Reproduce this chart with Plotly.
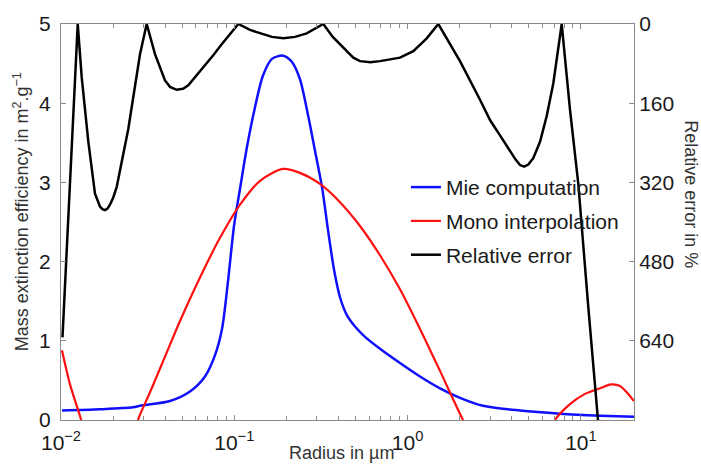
import plotly.graph_objects as go

# ---------------- data ----------------
mie_radius = [0.01013, 0.01679, 0.02603, 0.02857, 0.04256, 0.05551, 0.06773, 0.07738,
              0.08492, 0.09196, 0.09961, 0.1079, 0.1184, 0.1317, 0.1464, 0.1650, 0.1910,
              0.2152, 0.2394, 0.2663, 0.2922, 0.3207, 0.3473, 0.3761, 0.4073, 0.4470,
              0.4971, 0.5678, 0.6931, 0.9040, 1.179, 1.538, 2.006, 2.723, 4.453, 7.575,
              12.89, 20.25]
mie_value = [0.12, 0.135, 0.16, 0.18, 0.24, 0.36, 0.55, 0.82, 1.15, 1.75, 2.45, 2.92,
             3.45, 3.95, 4.35, 4.56, 4.60, 4.52, 4.30, 3.85, 3.40, 2.94, 2.40, 1.90,
             1.55, 1.32, 1.18, 1.05, 0.90, 0.72, 0.55, 0.40, 0.28, 0.18, 0.12, 0.08,
             0.055, 0.04]

mono_radius = [0.01013, 0.01127, 0.01287, 0.01470, 0.01917, 0.02435, 0.02781, 0.03263,
               0.03982, 0.04861, 0.06341, 0.08270, 0.1079, 0.1407, 0.1910, 0.2394, 0.3122,
               0.4073, 0.5313, 0.6931, 0.9040, 1.179, 1.538, 2.088, 2.617, 4.453, 6.206,
               7.088, 8.651, 10.56, 12.89, 14.92, 16.81, 20.25]
mono_value = [0.88, 0.45, 0.05, -0.40, -0.90, -0.50, 0.0, 0.35, 0.80, 1.25, 1.80, 2.30,
              2.72, 3.02, 3.17, 3.12, 2.98, 2.75, 2.45, 2.08, 1.65, 1.15, 0.62, 0.0,
              -0.40, -0.70, -0.30, 0.0, 0.20, 0.33, 0.40, 0.45, 0.43, 0.24]

err_radius = [0.0102, 0.01093, 0.01158, 0.01249, 0.01317, 0.01437, 0.01571, 0.01630,
              0.01679, 0.01735, 0.01794, 0.01855, 0.01917, 0.02000, 0.02097, 0.02445,
              0.02857, 0.03122, 0.03486, 0.03982, 0.04256, 0.04652, 0.05058, 0.05428,
              0.06000, 0.06773, 0.07600, 0.08457, 0.1055, 0.1232, 0.1407, 0.1650, 0.1918,
              0.2240, 0.2617, 0.2960, 0.3263, 0.3700, 0.4073, 0.4500, 0.4860, 0.5313,
              0.6100, 0.6931, 0.8000, 0.9040, 1.079, 1.289, 1.504, 2.006, 2.617, 3.000,
              3.414, 3.898, 4.200, 4.453, 4.700, 4.973, 5.311, 5.808, 6.349, 6.930, 7.252,
              7.748, 8.651, 9.661, 10.99, 12.50, 13.41]
err_value = [633, 408, 251, 0, 108, 237, 343, 360, 369, 374, 376, 373, 365, 351, 329, 212,
             61, 0, 61, 114, 127, 133, 131, 124, 106, 84, 62, 41, 0, 12, 19, 26, 29, 26,
             19, 8, 0, 26, 41, 57, 68, 75, 77, 75, 72, 68, 55, 29, 0, 75, 153, 195, 225,
             257, 274, 285, 288, 284, 271, 238, 186, 120, 75, 0, 173, 323, 565, 800, 918]

x_tick_vals = [0.01, 0.1, 1, 10]
x_tick_text = ["10<sup>\u22122</sup>", "10<sup>\u22121</sup>", "10<sup>0</sup>", "10<sup>1</sup>"]
x_minor_vals = [k * 10.0 ** e for e in (-2, -1, 0, 1) for k in range(2, 10)]
y_tick_vals = [0, 1, 2, 3, 4, 5]
y2_tick_vals = [0, 160, 320, 480, 640]

FONT = "Liberation Sans, Arial, Helvetica, sans-serif"
AX = "#8a8a8a"

fig = go.Figure()
fig.add_trace(go.Scatter(x=mie_radius, y=mie_value, name="Mie computation",
                         mode="lines", line=dict(color="#1010ff", width=2.5, shape="spline", smoothing=0.8),
                         legendgroup="a"))
fig.add_trace(go.Scatter(x=mono_radius, y=mono_value, name="Mono interpolation",
                         mode="lines", line=dict(color="#ff1010", width=2.2, shape="spline", smoothing=0.8),
                         legendgroup="b"))
fig.add_trace(go.Scatter(x=err_radius, y=err_value, name="Relative error", yaxis="y2",
                         mode="lines", line=dict(color="black", width=2.5),
                         legendgroup="c"))

fig.update_layout(
    width=701, height=469,
    margin=dict(l=61, r=67, t=12, b=49),
    paper_bgcolor="white", plot_bgcolor="white",
    font=dict(family=FONT, size=21, color="#1a1a1a"),
    showlegend=True,
    legend=dict(x=0.602, y=0.639, xanchor="left", yanchor="top",
                bgcolor="rgba(0,0,0,0)", font=dict(size=21),
                traceorder="grouped", tracegroupgap=3.5),
    xaxis=dict(type="log", range=[-2, 1.3064], tickmode="array",
               tickvals=x_tick_vals, ticktext=x_tick_text,
               ticks="inside", ticklen=5, tickcolor=AX, showline=True, linecolor=AX,
               linewidth=1, mirror="ticks", showgrid=False, zeroline=False,
               ticklabelstandoff=4,
               minor=dict(ticks="inside", ticklen=4, tickcolor=AX, tickmode="array",
                          tickvals=x_minor_vals, showgrid=False)),
    yaxis=dict(range=[0, 5], tickmode="array", tickvals=y_tick_vals,
               ticks="inside", ticklen=5, tickcolor=AX, showline=True, linecolor=AX,
               linewidth=1, showgrid=False, zeroline=False, ticklabelstandoff=5),
    yaxis2=dict(overlaying="y", side="right", range=[800, 0], tickmode="array",
                tickvals=y2_tick_vals, ticks="inside", ticklen=5, tickcolor=AX,
                showline=True, linecolor=AX, linewidth=1, showgrid=False, zeroline=False),
    annotations=[
        dict(text="Radius in \u00b5m", xref="paper", yref="paper", x=0.4887, y=-0.0833,
             xanchor="center", yanchor="middle", showarrow=False,
             font=dict(size=18, color="#333333", family=FONT)),
        dict(text="Mass extinction efficiency in m<sup>2</sup>.g<sup>\u22121</sup>",
             xref="paper", yref="paper", x=-0.0698, y=0.5245, textangle=-90,
             xanchor="center", yanchor="middle", showarrow=False,
             font=dict(size=18, color="#333333", family=FONT)),
        dict(text="Relative error in %", xref="paper", yref="paper", x=1.0995, y=0.57,
             textangle=90, xanchor="center", yanchor="middle", showarrow=False,
             font=dict(size=18, color="#333333", family=FONT)),
    ],
)

fig.write_html("out.html")
